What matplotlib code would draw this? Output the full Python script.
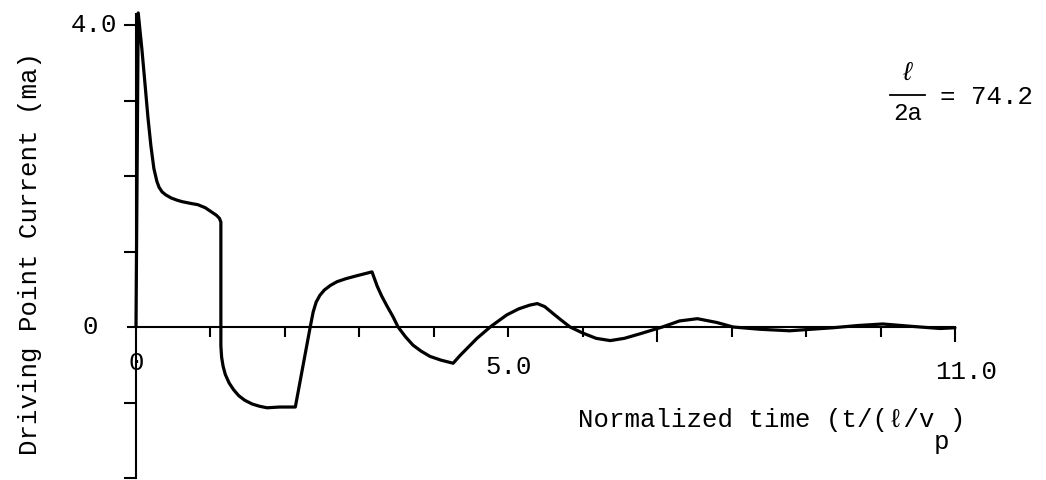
import matplotlib
matplotlib.use("Agg")
import matplotlib.pyplot as plt

# ---- data ----
time = [0.0, 0.03, 0.08, 0.12, 0.16, 0.20, 0.24, 0.28, 0.31, 0.35, 0.40, 0.47, 0.55,
        0.62, 0.72, 0.83, 0.93, 1.02, 1.08, 1.12, 1.14,
        1.14, 1.15, 1.17, 1.20, 1.25, 1.31, 1.38, 1.46, 1.56, 1.66, 1.76, 1.93, 2.14,
        2.34, 2.38, 2.42, 2.47, 2.53, 2.61, 2.70, 2.82, 2.97, 3.17,
        3.24, 3.30, 3.37, 3.45, 3.52, 3.62, 3.72, 3.83, 3.95, 4.10, 4.26,
        4.35, 4.47, 4.58, 4.77, 4.98, 5.14, 5.29, 5.39, 5.49, 5.60, 5.70, 5.83,
        6.00, 6.18, 6.37, 6.56, 6.77, 7.07, 7.30, 7.54, 7.80, 8.02, 8.38, 8.78,
        9.36, 9.70, 10.03, 10.40, 10.80, 11.0]
current = [0.0, 4.16, 3.67, 3.23, 2.78, 2.40, 2.10, 1.93, 1.85, 1.79, 1.75, 1.71, 1.68,
           1.66, 1.64, 1.62, 1.58, 1.52, 1.48, 1.44, 1.39,
           -0.25, -0.40, -0.52, -0.63, -0.74, -0.83, -0.91, -0.97, -1.02, -1.05, -1.07, -1.06, -1.06,
           0.0, 0.20, 0.33, 0.42, 0.49, 0.55, 0.60, 0.64, 0.68, 0.73,
           0.54, 0.41, 0.28, 0.14, 0.0, -0.13, -0.24, -0.32, -0.39, -0.44, -0.48,
           -0.38, -0.26, -0.15, 0.01, 0.16, 0.24, 0.29, 0.31, 0.27, 0.18, 0.10, 0.0,
           -0.08, -0.15, -0.18, -0.15, -0.09, 0.0, 0.08, 0.11, 0.06, 0.0, -0.03, -0.05,
           -0.01, 0.02, 0.04, 0.01, -0.02, -0.01]

x_ticks = [1, 2, 3, 4, 5, 6, 8, 9, 10]
x_long_ticks = [7, 11]
y_ticks = [-2, -1, 1, 2, 3, 4]

FONT = ["Liberation Mono", "DejaVu Sans Mono"]
plt.rcParams["font.family"] = FONT

fig = plt.figure(figsize=(10.46, 4.80), dpi=100)
ax = fig.add_axes([0, 0, 1, 1])
ax.set_xlim(-136 / 74.45, (1046 - 136) / 74.45)
ax.set_ylim((327 - 480) / 75.5, 327 / 75.5)
ax.patch.set_alpha(0)

for s in ("top", "right"):
    ax.spines[s].set_visible(False)
ax.spines["left"].set_position(("data", 0))
ax.spines["bottom"].set_position(("data", 0))
ax.spines["left"].set_bounds(-2, 4.15)
ax.spines["bottom"].set_bounds(-0.11, 11)
ax.spines["left"].set_linewidth(1.5)
ax.spines["bottom"].set_linewidth(1.5)

ax.set_xticks(x_long_ticks)
ax.set_xticks(x_ticks, minor=True)
ax.set_yticks(y_ticks)
ax.tick_params(axis="x", which="major", direction="out", length=11, width=1.5, labelbottom=False)
ax.tick_params(axis="x", which="minor", direction="out", length=7.5, width=1.5, labelbottom=False)
ax.tick_params(axis="y", direction="out", length=9, width=1.5, labelleft=False)

ax.plot(time, current, color="black", lw=2.3, solid_joinstyle="round",
        solid_capstyle="round", clip_on=False)

fs = 18.5
ax.text(-0.255, 4.0, "4.0", ha="right", va="center", fontsize=fs)
ax.text(-0.62, 0.0, "0", ha="center", va="center", fontsize=fs)
ax.text(0.0, -0.48, "0", ha="center", va="center", fontsize=fs)
ax.text(5.01, -0.53, "5.0", ha="center", va="center", fontsize=fs)
ax.text(11.15, -0.6, "11.0", ha="center", va="center", fontsize=fs)

ax.text(5.94, -1.23, "Normalized time (t/(\u2113/v )", ha="left", va="center", fontsize=fs)
ax.text(10.82, -1.52, "p", ha="center", va="center", fontsize=fs)
ax.text(-1.42, 0.98, "Driving Point Current (ma)", ha="center", va="center",
        rotation=90, fontsize=fs)

ax.text(10.36, 3.36, "\u2113", ha="center", va="center", fontsize=fs, style="italic")
ax.plot([10.13, 10.6], [3.07, 3.07], color="black", lw=1.3)
ax.text(10.36, 2.83, "2a", ha="center", va="center", fontsize=fs - 1)
ax.text(10.8, 3.05, "= 74.2", ha="left", va="center", fontsize=fs)

fig.savefig("out.png", dpi=100)
